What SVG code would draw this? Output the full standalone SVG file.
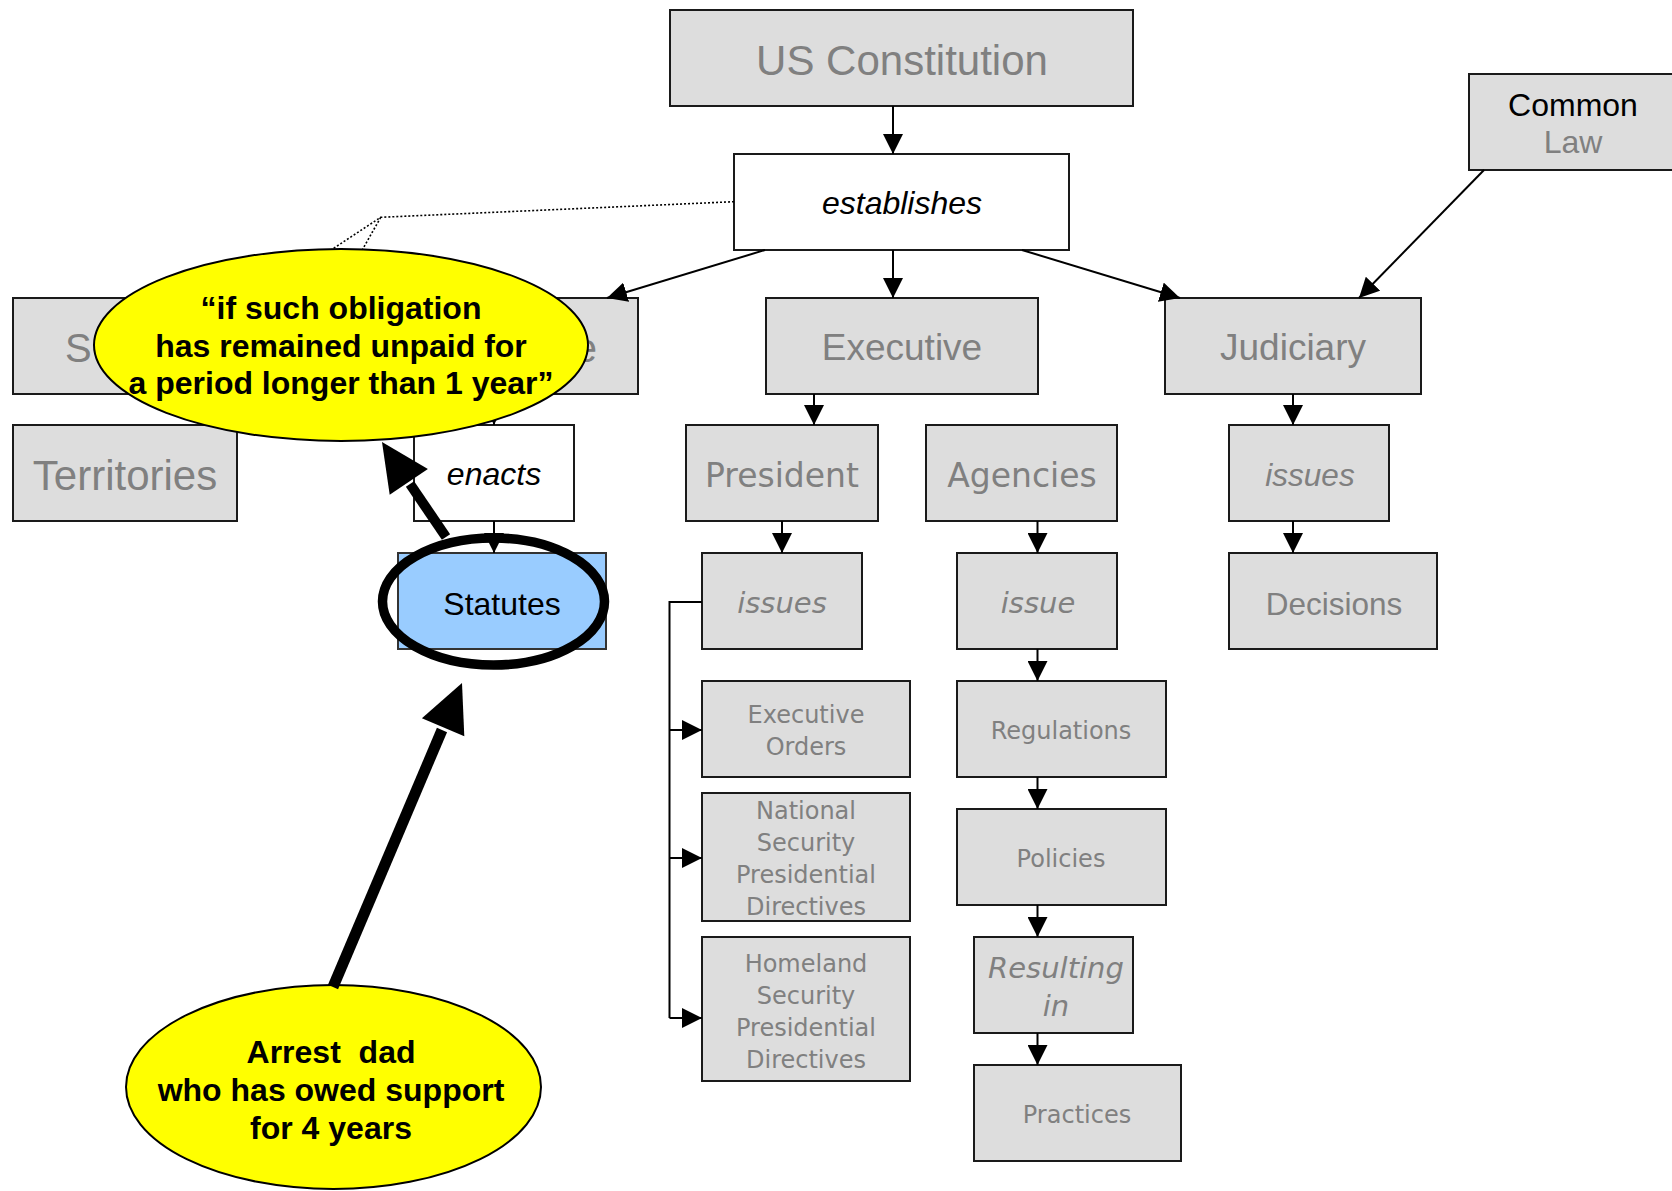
<svg xmlns="http://www.w3.org/2000/svg" width="1672" height="1191" viewBox="0 0 1672 1191">
<defs>
<style>
.box{fill:#dddddd;stroke:#1a1a1a;stroke-width:2}
.wbox{fill:#ffffff;stroke:#1a1a1a;stroke-width:2}
.g{fill:#808080;font-family:"Liberation Sans",Arial,sans-serif;text-anchor:middle}
.k{fill:#000000;font-family:"Liberation Sans",Arial,sans-serif;text-anchor:middle}
.v{fill:#808080;font-family:"DejaVu Sans",Verdana,sans-serif;text-anchor:middle}
.it{font-style:italic}
.b{font-weight:bold}
.con{fill:none;stroke:#000;stroke-width:2}
.dot{fill:none;stroke:#000;stroke-width:1.6;stroke-dasharray:2 2}
.callout{fill:#ffff00;stroke:#000;stroke-width:2}
</style>
<marker id="ah" markerUnits="userSpaceOnUse" markerWidth="20" markerHeight="20" refX="20" refY="10" orient="auto" viewBox="0 0 20 20">
<path d="M0,0 L20,10 L0,20 z" fill="#000"/>
</marker>
</defs>
<rect width="1672" height="1191" fill="#ffffff"/>

<g id="node-state">
<rect class="box" x="13" y="298" width="625" height="96"/>
<text class="g" x="65" y="362" font-size="40" style="text-anchor:start">S</text>
<text class="g" x="597" y="362" font-size="40" style="text-anchor:end">e</text>
</g>
<g id="node-constitution">
<rect class="box" x="670" y="10" width="463" height="96"/>
<text class="g" x="902" y="75" font-size="42">US Constitution</text>
</g>
<g id="node-establishes">
<rect class="wbox" x="734" y="154" width="335" height="96"/>
<text class="k it" x="902" y="214" font-size="32">establishes</text>
</g>
<g id="node-executive">
<rect class="box" x="766" y="298" width="272" height="96"/>
<text class="g" x="902" y="360" font-size="37">Executive</text>
</g>
<g id="node-judiciary">
<rect class="box" x="1165" y="298" width="256" height="96"/>
<text class="g" x="1293" y="360" font-size="37">Judiciary</text>
</g>
<g id="node-common-law">
<rect class="box" x="1469" y="74" width="215" height="96"/>
<text class="k" x="1573" y="116" font-size="32">Common</text>
<text class="g" x="1573" y="153" font-size="32">Law</text>
</g>
<g id="node-territories">
<rect class="box" x="13" y="425" width="224" height="96"/>
<text class="g" x="125" y="490" font-size="42">Territories</text>
</g>
<g id="node-enacts">
<rect class="wbox" x="414" y="425" width="160" height="96"/>
<text class="k it" x="494" y="485" font-size="32">enacts</text>
</g>
<g id="node-statutes">
<rect x="398" y="553" width="208" height="96" fill="#99ccff" stroke="#333" stroke-width="2"/>
<text class="k" x="502" y="615" font-size="32">Statutes</text>
</g>
<g id="node-president">
<rect class="box" x="686" y="425" width="192" height="96"/>
<text class="v" x="782" y="487" font-size="33">President</text>
</g>
<g id="node-agencies">
<rect class="box" x="926" y="425" width="191" height="96"/>
<text class="v" x="1022" y="487" font-size="33">Agencies</text>
</g>
<g id="node-president-issues">
<rect class="box" x="702" y="553" width="160" height="96"/>
<text class="v it" x="782" y="613" font-size="29">issues</text>
</g>
<g id="node-agencies-issue">
<rect class="box" x="957" y="553" width="160" height="96"/>
<text class="v it" x="1038" y="613" font-size="29">issue</text>
</g>
<g id="node-executive-orders">
<rect class="box" x="702" y="681" width="208" height="96"/>
<text class="v" x="806" y="723" font-size="24">Executive</text>
<text class="v" x="806" y="755" font-size="24">Orders</text>
</g>
<g id="node-nspd">
<rect class="box" x="702" y="793" width="208" height="128"/>
<text class="v" x="806" y="819" font-size="24">National</text>
<text class="v" x="806" y="851" font-size="24">Security</text>
<text class="v" x="806" y="883" font-size="24">Presidential</text>
<text class="v" x="806" y="915" font-size="24">Directives</text>
</g>
<g id="node-hspd">
<rect class="box" x="702" y="937" width="208" height="144"/>
<text class="v" x="806" y="972" font-size="24">Homeland</text>
<text class="v" x="806" y="1004" font-size="24">Security</text>
<text class="v" x="806" y="1036" font-size="24">Presidential</text>
<text class="v" x="806" y="1068" font-size="24">Directives</text>
</g>
<g id="node-regulations">
<rect class="box" x="957" y="681" width="209" height="96"/>
<text class="v" x="1061" y="739" font-size="24">Regulations</text>
</g>
<g id="node-policies">
<rect class="box" x="957" y="809" width="209" height="96"/>
<text class="v" x="1061" y="867" font-size="24">Policies</text>
</g>
<g id="node-resulting-in">
<rect class="box" x="974" y="937" width="159" height="96"/>
<text class="v it" x="1056" y="978" font-size="29">Resulting</text>
<text class="v it" x="1056" y="1016" font-size="29">in</text>
</g>
<g id="node-practices">
<rect class="box" x="974" y="1065" width="207" height="96"/>
<text class="v" x="1077" y="1123" font-size="24">Practices</text>
</g>
<g id="node-judiciary-issues">
<rect class="box" x="1229" y="425" width="160" height="96"/>
<text class="g it" x="1310" y="486" font-size="31.5">issues</text>
</g>
<g id="node-decisions">
<rect class="box" x="1229" y="553" width="208" height="96"/>
<text class="g" x="1334" y="615" font-size="31.5">Decisions</text>
</g>

<g id="connectors">
<path class="con" d="M893,106 V154" marker-end="url(#ah)"/>
<path class="con" d="M893,250 V298" marker-end="url(#ah)"/>
<path class="con" d="M765,250 L607,298" marker-end="url(#ah)"/>
<path class="con" d="M1022,250 L1180,298" marker-end="url(#ah)"/>
<path class="con" d="M1484,170 L1359,298" stroke-width="1.5" marker-end="url(#ah)"/>
<path class="con" d="M494,394 V425" marker-end="url(#ah)"/>
<path class="con" d="M494,521 V553" marker-end="url(#ah)"/>
<path class="con" d="M814,394 V425" marker-end="url(#ah)"/>
<path class="con" d="M782,521 V553" marker-end="url(#ah)"/>
<path class="con" d="M702,602 H669.5 V1018"/>
<path class="con" d="M669.5,730 H702" marker-end="url(#ah)"/>
<path class="con" d="M669.5,858 H702" marker-end="url(#ah)"/>
<path class="con" d="M669.5,1018 H702" marker-end="url(#ah)"/>
<path class="con" d="M1037.5,521 V553" marker-end="url(#ah)"/>
<path class="con" d="M1037.5,649 V681" marker-end="url(#ah)"/>
<path class="con" d="M1037.5,777 V809" marker-end="url(#ah)"/>
<path class="con" d="M1037.5,905 V937" marker-end="url(#ah)"/>
<path class="con" d="M1037.5,1033 V1065" marker-end="url(#ah)"/>
<path class="con" d="M1293,394 V425" marker-end="url(#ah)"/>
<path class="con" d="M1293,521 V553" marker-end="url(#ah)"/>
<path class="dot" d="M734,201.7 L380.7,217.3 L325,254 M380.7,217.3 L360,254"/>
</g>

<g id="callout-obligation">
<ellipse class="callout" cx="341" cy="345" rx="247" ry="96"/>
<text class="k b" x="341" y="319" font-size="32">“if such obligation</text>
<text class="k b" x="341" y="357" font-size="32">has remained unpaid for</text>
<text class="k b" x="341" y="394" font-size="32">a period longer than 1 year”</text>
</g>

<g id="highlight-statutes">
<ellipse cx="493.5" cy="601.5" rx="111" ry="63.5" fill="none" stroke="#000" stroke-width="9.5"/>
</g>

<g id="callout-arrest">
<ellipse class="callout" cx="333.5" cy="1087" rx="207.5" ry="102"/>
<text class="k b" x="331" y="1063" font-size="32" xml:space="preserve">Arrest  dad</text>
<text class="k b" x="331" y="1101" font-size="32">who has owed support</text>
<text class="k b" x="331" y="1139" font-size="32">for 4 years</text>
</g>

<g id="thick-arrows">
<path d="M446,537 L410,484" stroke="#000" stroke-width="10" fill="none"/>
<polygon points="382,442 427.9,468.9 389.7,494.7" fill="#000"/>
<path d="M333,987 L442,730" stroke="#000" stroke-width="11" fill="none"/>
<polygon points="462,683 464.3,736.2 421.9,718.2" fill="#000"/>
</g>
</svg>
